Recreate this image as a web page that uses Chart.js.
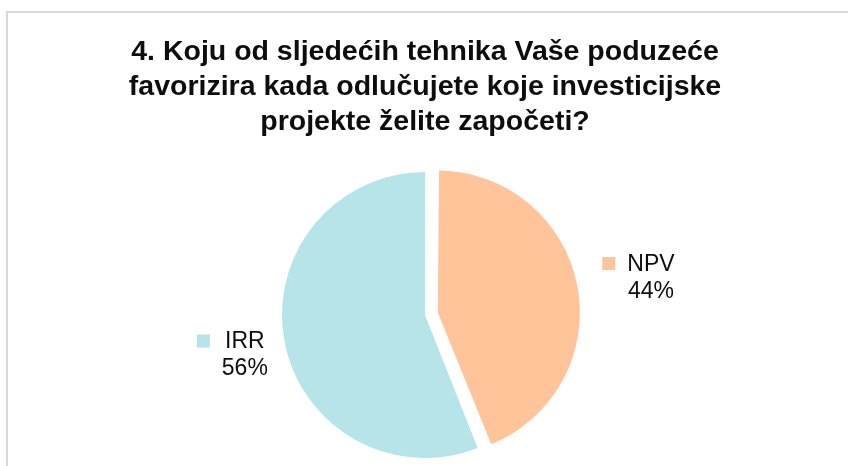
<!DOCTYPE html>
<html>
<head>
<meta charset="utf-8">
<script src="https://cdn.jsdelivr.net/npm/chart.js@4"></script>
<style>
  html, body { margin: 0; padding: 0; background: #ffffff; }
  #wrap { width: 848px; height: 466px; position: relative; }
</style>
</head>
<body>
<div id="wrap"><canvas id="myChart"></canvas></div>
<script>
// chart data
const CATEGORIES = ["NPV", "IRR"];
const VALUES = [44, 56];
const PCT_LABELS = ["44%", "56%"];
const COLORS = ["#FFC499", "#B6E4E8"];
const TITLE_LINES = [
  "4. Koju od sljedećih tehnika Vaše poduzeće",
  "favorizira kada odlučujete koje investicijske",
  "projekte želite započeti?",
];

const FONT_FAMILY = "'Liberation Sans', Arial, sans-serif";

// light grey frame around the chart (left and top edges visible)
const framePlugin = {
  id: 'frame',
  beforeDraw(chart) {
    const ctx = chart.ctx;
    ctx.save();
    ctx.strokeStyle = '#d9d9d9';
    ctx.lineWidth = 2;
    ctx.strokeRect(7, 12, chart.width + 20, chart.height + 20);
    ctx.restore();
  }
};

// Chart.js grows an offset slice a bit while moving it out;
// shrink it back so the exploded slice matches the others
const explodePlugin = {
  id: 'explode',
  beforeDatasetsDraw(chart) {
    const meta = chart.getDatasetMeta(0);
    const baseR = meta.controller.outerRadius;
    meta.data.forEach(arc => {
      const shift = (arc.options.offset || 0) / 4;
      arc.outerRadius = baseR - shift * 0.7;
    });
  }
};

// outside labels with a small legend key, placed along each slice's middle angle
const LABEL_DIST = 1.40;
const LABEL_NUDGE_X = 4;
const labelPlugin = {
  id: 'outLabels',
  afterDatasetsDraw(chart) {
    const ctx = chart.ctx;
    const meta = chart.getDatasetMeta(0);
    const baseR = meta.controller.outerRadius;
    ctx.save();
    ctx.font = '23px ' + FONT_FAMILY;
    ctx.textAlign = 'center';
    ctx.textBaseline = 'middle';
    meta.data.forEach((arc, i) => {
      const mid = (arc.startAngle + arc.endAngle) / 2;
      const shift = (arc.options.offset || 0) / 4;
      const r = baseR * LABEL_DIST + shift;
      const cx = arc.x + Math.cos(mid) * r + LABEL_NUDGE_X;
      const cy = arc.y + Math.sin(mid) * r;
      const lines = [CATEGORIES[i], PCT_LABELS[i]];
      const textW = Math.max(...lines.map(t => ctx.measureText(t).width));
      const keySize = 13, gap = 12, lineH = 27;
      const boxW = keySize + gap + textW;
      const left = cx - boxW / 2;
      const top = cy - lineH + 3;
      ctx.fillStyle = COLORS[i];
      ctx.fillRect(left, top + lineH / 2 - keySize / 2 - 1, keySize, keySize);
      ctx.fillStyle = '#0d0d0d';
      const tx = left + keySize + gap + textW / 2;
      lines.forEach((t, j) => ctx.fillText(t, tx, top + lineH / 2 + j * lineH));
    });
    ctx.restore();
  }
};

const ctx = document.getElementById('myChart').getContext('2d');
const pieChart = new Chart(ctx, {
  type: 'pie',
  data: {
    labels: CATEGORIES,
    datasets: [{
      data: VALUES,
      backgroundColor: COLORS,
      borderWidth: 0,
      offset: [52, 0],  // NPV slice pulled out (Chart.js moves it by offset/4)
    }]
  },
  options: {
    responsive: true,
    maintainAspectRatio: false,
    animation: false,
    radius: 143,
    layout: {
      padding: { left: 2, right: 0, top: 0, bottom: 0 },
    },
    plugins: {
      title: {
        display: true,
        text: TITLE_LINES,
        color: '#0d0d0d',
        font: { family: FONT_FAMILY, size: 28.5, weight: 'bold', lineHeight: 1.228 },
        padding: { top: 34.8, bottom: 24.2 },
      },
      legend: { display: false },
      tooltip: { enabled: false },
    },
  },
  plugins: [framePlugin, explodePlugin, labelPlugin],
});
</script>
</body>
</html>
